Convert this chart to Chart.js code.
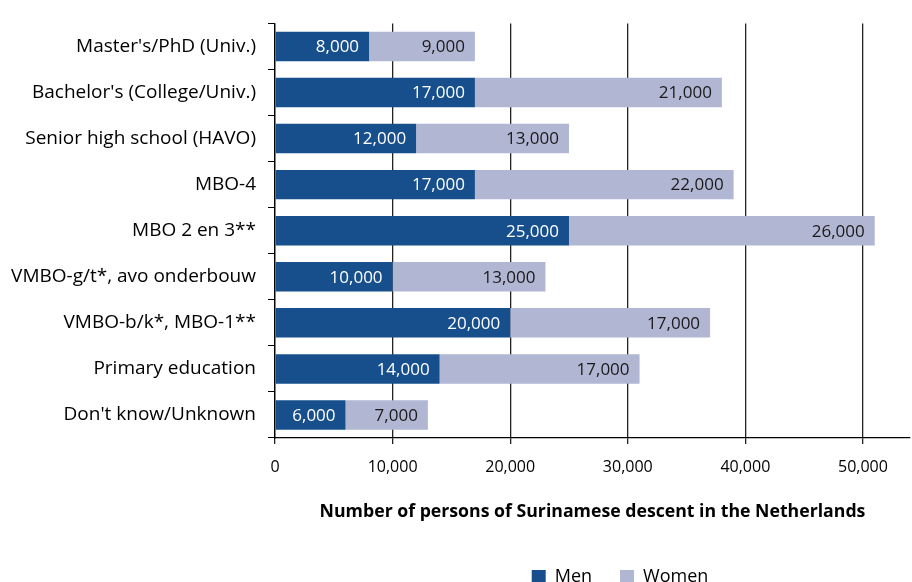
<!DOCTYPE html>
<html lang="en">
<head>
    <meta charset="UTF-8">
    <title>Surinamese descent by education</title>
    <script src="https://cdn.jsdelivr.net/npm/chart.js"></script>
    <style>
        html, body { margin: 0; padding: 0; background: #fff; }
        #wrap { width: 912px; height: 582px; position: relative; }
    </style>
</head>
<body>
    <div id="wrap"><canvas id="eduChart"></canvas></div>

    <script>
        const categories = [
            "Master's/PhD (Univ.)",
            "Bachelor's (College/Univ.)",
            "Senior high school (HAVO)",
            "MBO-4",
            "MBO 2 en 3**",
            "VMBO-g/t*, avo onderbouw",
            "VMBO-b/k*, MBO-1**",
            "Primary education",
            "Don't know/Unknown"
        ];
        const men = [8000, 17000, 12000, 17000, 25000, 10000, 20000, 14000, 6000];
        const women = [9000, 21000, 13000, 22000, 26000, 13000, 17000, 17000, 7000];
        const xTicks = [0, 10000, 20000, 30000, 40000, 50000];

        const FONT = "'Open Sans', 'Noto Sans', sans-serif";

        // draw the value inside the end of every segment
        const segmentLabels = {
            id: "segmentLabels",
            afterDatasetsDraw(chart) {
                const ctx = chart.ctx;
                ctx.save();
                ctx.font = "17px " + FONT;
                ctx.textAlign = "right";
                ctx.textBaseline = "middle";
                chart.data.datasets.forEach((ds, i) => {
                    const meta = chart.getDatasetMeta(i);
                    ctx.fillStyle = i === 0 ? "#ffffff" : "#1a1a1a";
                    meta.data.forEach((bar, j) => {
                        const txt = ds.data[j].toLocaleString("en-US");
                        ctx.fillText(txt, bar.x - 10, bar.y + 1);
                    });
                });
                ctx.restore();
            }
        };

        // legend sits under the plot area, low in the picture
        const moveLegend = {
            id: "moveLegend",
            afterLayout(chart) {
                const lg = chart.legend;
                const h = lg.bottom - lg.top;
                lg.left = 330;
                lg.right = 910;
                lg.top = 540;
                lg.bottom = lg.top + h;
            }
        };

        const ctx = document.getElementById("eduChart").getContext("2d");
        new Chart(ctx, {
            type: "bar",
            data: {
                labels: categories,
                datasets: [
                    { label: "Men", data: men, backgroundColor: "#174f8c" },
                    { label: "Women", data: women, backgroundColor: "#b1b6d3" }
                ]
            },
            options: {
                indexAxis: "y",
                responsive: true,
                maintainAspectRatio: false,
                animation: false,
                layout: { padding: { left: 0, right: 2, top: 15, bottom: 0 } },
                datasets: { bar: { barPercentage: 0.64, categoryPercentage: 1 } },
                scales: {
                    x: {
                        stacked: true,
                        min: 0,
                        max: 54000,
                        afterBuildTicks(scale) {
                            scale.ticks = xTicks.map(v => ({ value: v }));
                        },
                        afterFit(scale) { scale.height = 88; },
                        ticks: {
                            color: "#000",
                            font: { family: FONT, size: 16 },
                            padding: 14,
                            callback: v => v.toLocaleString("en-US")
                        },
                        grid: { color: "#222", lineWidth: 1.3, tickLength: 6 },
                        border: { color: "#000", width: 1.3 },
                        title: {
                            display: true,
                            text: "Number of persons of Surinamese descent in the Netherlands",
                            color: "#000",
                            font: { family: FONT, size: 17.7, weight: "bold" },
                            padding: { top: 4, bottom: 3 }
                        }
                    },
                    y: {
                        stacked: true,
                        afterFit(scale) { scale.width = 275; },
                        ticks: {
                            color: "#000",
                            font: { family: FONT, size: 19 },
                            padding: 12
                        },
                        grid: { drawOnChartArea: false, color: "#000", tickLength: 7 },
                        border: { color: "#000", width: 1.3 }
                    }
                },
                plugins: {
                    legend: {
                        position: "bottom",
                        labels: {
                            color: "#000",
                            font: { family: FONT, size: 18 },
                            boxWidth: 14,
                            boxHeight: 14,
                            padding: 28
                        }
                    },
                    tooltip: { enabled: false }
                }
            },
            plugins: [segmentLabels, moveLegend]
        });
    </script>
</body>
</html>
